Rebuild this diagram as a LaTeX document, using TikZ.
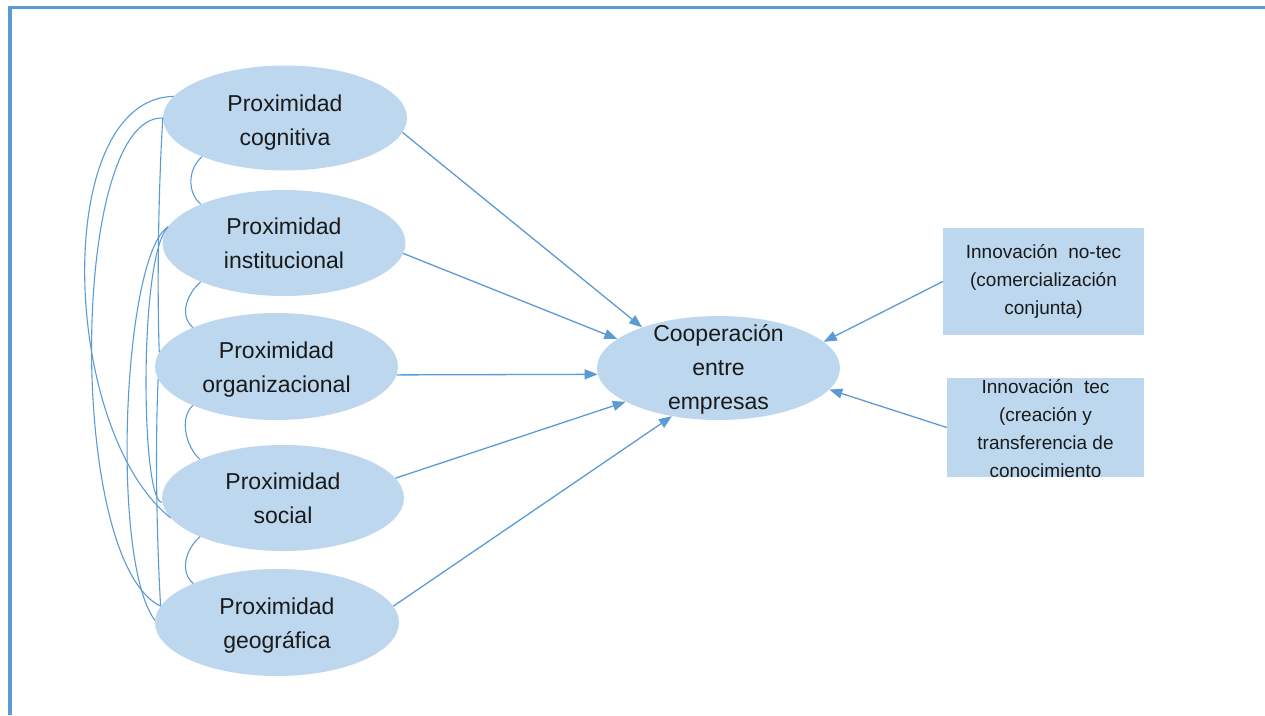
\documentclass[tikz,border=0pt]{standalone}
\usepackage{fontspec}
\setmainfont{Liberation Sans}
\usetikzlibrary{shapes.geometric,arrows.meta,calc}
\definecolor{lineblue}{HTML}{5B9BD5}
\definecolor{fillblue}{HTML}{BDD7EE}
\definecolor{txt}{HTML}{1A1A1A}
\begin{document}
\begin{tikzpicture}[x=1pt,y=-1pt,
  prox/.style={ellipse, fill=fillblue, inner sep=0pt},
  proxtext/.style={align=center, inner sep=0pt, text=txt, font=\fontsize{23}{34}\selectfont},
  innobox/.style={rectangle, fill=fillblue, inner sep=0pt},
  innotext/.style={align=center, inner sep=0pt, text=txt, font=\fontsize{19}{28}\selectfont},
  corr/.style={draw=lineblue, line width=1.1pt},
  effect/.style={draw=lineblue, line width=1.3pt, -{Triangle[length=13pt,width=10pt]}},
  frameline/.style={draw=lineblue, line width=3.5pt}
]
\useasboundingbox (0,0) rectangle (1265,715);
\coordinate (fbl) at (10,715);
\coordinate (ftl) at (10,7.5);
\coordinate (ftr) at (1265,7.5);
\draw[frameline] (fbl) -- (ftl) -- (ftr);

\node[prox, minimum width=244pt, minimum height=105pt] (cog) at (285,118) {};
\node[proxtext] (cogtext) at ([yshift=-5pt]cog.center) {Proximidad\\cognitiva};
\node[prox, minimum width=243pt, minimum height=106pt] (inst) at (284,243) {};
\node[proxtext] (insttext) at (inst.center) {Proximidad\\institucional};
\node[prox, minimum width=243pt, minimum height=107pt] (org) at (276.5,366.5) {};
\node[proxtext] (orgtext) at ([yshift=-3.5pt]org.center) {Proximidad\\organizacional};
\node[prox, minimum width=242pt, minimum height=106pt] (soc) at (283,498) {};
\node[proxtext] (soctext) at (soc.center) {Proximidad\\social};
\node[prox, minimum width=244pt, minimum height=107pt] (geo) at (277,622.5) {};
\node[proxtext] (geotext) at ([yshift=-3pt]geo.center) {Proximidad\\geográfica};
\node[prox, minimum width=243pt, minimum height=104pt] (coop) at (718.5,368) {};
\node[proxtext] (cooptext) at ([yshift=-1.5pt]coop.center) {Cooperación\\entre\\empresas};

\node[innobox, minimum width=201pt, minimum height=107pt] (nt) at (1043.5,281.5) {};
\node[innotext] (nttext) at (nt.center) {Innovación\ \ no-tec\\(comercialización\\conjunta)};
\node[innobox, minimum width=197pt, minimum height=99pt] (tec) at (1045.5,427.5) {};
\node[innotext] (tectext) at ([yshift=-1.5pt]tec.center) {Innovación\ \ tec\\(creación y\\transferencia de\\conocimiento};

% adjacent correlations
\draw[corr] (cog.205) .. controls +(-14,12) and +(-14,-12) .. (inst.155);
\draw[corr] (inst.205) .. controls +(-14,12) and +(-14,-12) .. (org.155);
\draw[corr] (org.205) .. controls +(-14,12) and +(-14,-12) .. (soc.155);
\draw[corr] (soc.205) .. controls +(-14,12) and +(-14,-12) .. (geo.155);

% long correlations
\draw[corr] (cog.169) .. controls +(-123,3) and +(-110,-88) .. (soc.190);
\draw[corr] (cog.180) .. controls +(-93,-3) and +(-94,-45) .. (geo.172);
\draw[corr] (cog.180) .. controls +(-5,82) and +(-2,-51) .. (org.173);
\draw[corr] (org.186) .. controls +(-3,70) and +(-4,-70) .. (geo.172);
\draw[corr] (inst.172) .. controls +(-30,30) and +(-21,3) .. (soc.182);
\draw[corr] (inst.172) .. controls +(-45,28) and +(-45,-60) .. (geo.179);

% effects
\draw[effect] (cog.-7) -- (coop.152);
\draw[effect] (inst.-5) -- (coop.164);
\draw[effect] (org.-4) -- (coop.183);
\draw[effect] (soc.10) -- (coop.200);
\draw[effect] (geo.8) -- (coop.226);
\draw[effect] (nt.west) -- (coop.14);
\draw[effect] (tec.west) -- (coop.-11);
\end{tikzpicture}
\end{document}
